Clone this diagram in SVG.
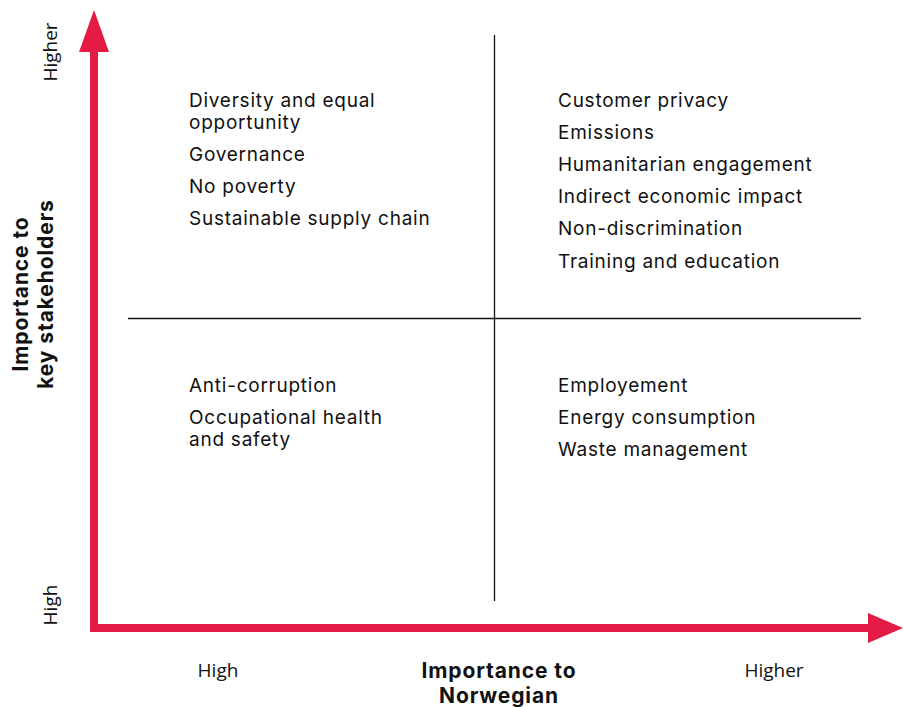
<svg xmlns="http://www.w3.org/2000/svg" width="903" height="707" viewBox="0 0 903 707">
<style>
.item{font-family:Inter,"Noto Sans",sans-serif;font-size:19px;letter-spacing:0.75px;fill:#111;}
.tick{font-family:"Open Sans","Noto Sans",sans-serif;font-size:19px;fill:#111;}
.title{font-family:Inter,"Noto Sans",sans-serif;font-size:21px;font-weight:bold;letter-spacing:0.9px;fill:#111;}
.grid{stroke:#111;stroke-width:1.3;}
.axis{fill:#E31B45;}
</style>
<rect width="903" height="707" fill="#fff"/>
<g id="connectors">
<line class="grid" x1="494.5" y1="35" x2="494.5" y2="601"/>
<line class="grid" x1="128" y1="318.5" x2="861" y2="318.5"/>
<rect class="axis" x="90" y="48" width="8" height="584"/>
<rect class="axis" x="90" y="624" width="780" height="8"/>
<polygon class="axis" points="94,10 109,52 79,52"/>
<polygon class="axis" points="903,628 868,613 868,643"/>
</g>
<g id="axis-y-labels">
<text class="tick" transform="translate(57,52) rotate(-90)" text-anchor="middle">Higher</text>
<text class="tick" transform="translate(57,605) rotate(-90)" text-anchor="middle">High</text>
<text class="title" transform="translate(28,294) rotate(-90)" text-anchor="middle">Importance to</text>
<text class="title" transform="translate(53,294) rotate(-90)" text-anchor="middle">key stakeholders</text>
</g>
<g id="axis-x-labels">
<text class="tick" x="218" y="677" text-anchor="middle">High</text>
<text class="tick" x="774" y="677" text-anchor="middle">Higher</text>
<text class="title" x="499" y="678" text-anchor="middle">Importance to</text>
<text class="title" x="499" y="703" text-anchor="middle">Norwegian</text>
</g>
<g id="q-top-left">
<text class="item" x="189" y="107">Diversity and equal</text>
<text class="item" x="189" y="129">opportunity</text>
<text class="item" x="189" y="161">Governance</text>
<text class="item" x="189" y="193">No poverty</text>
<text class="item" x="189" y="225">Sustainable supply chain</text>
</g>
<g id="q-top-right">
<text class="item" x="558" y="107">Customer privacy</text>
<text class="item" x="558" y="139">Emissions</text>
<text class="item" x="558" y="171">Humanitarian engagement</text>
<text class="item" x="558" y="203">Indirect economic impact</text>
<text class="item" x="558" y="235">Non-discrimination</text>
<text class="item" x="558" y="268">Training and education</text>
</g>
<g id="q-bottom-left">
<text class="item" x="189" y="392">Anti-corruption</text>
<text class="item" x="189" y="424">Occupational health</text>
<text class="item" x="189" y="446">and safety</text>
</g>
<g id="q-bottom-right">
<text class="item" x="558" y="392">Employement</text>
<text class="item" x="558" y="424">Energy consumption</text>
<text class="item" x="558" y="456">Waste management</text>
</g>
</svg>
